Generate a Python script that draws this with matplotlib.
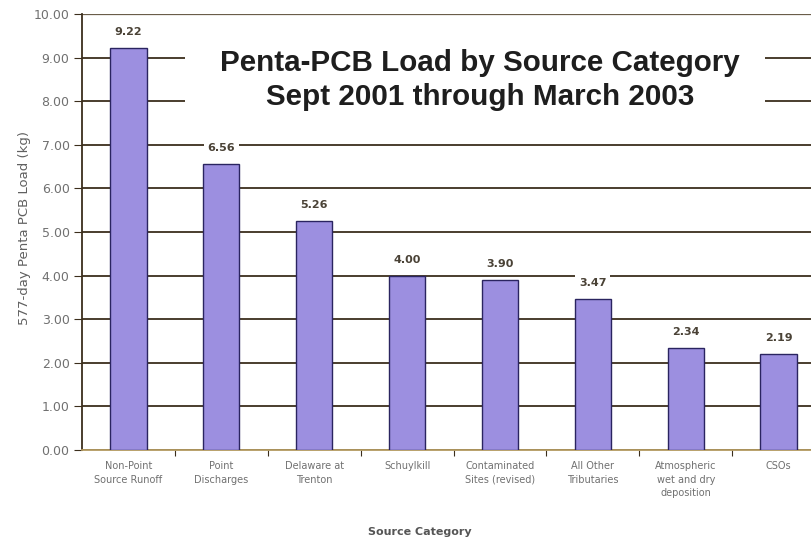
import matplotlib.pyplot as plt
import numpy as np

plt.rcParams['font.family'] = ['DejaVu Sans']

categories = ['Non-Point\nSource Runoff', 'Point\nDischarges', 'Delaware at\nTrenton',
              'Schuylkill', 'Contaminated\nSites (revised)', 'All Other\nTributaries',
              'Atmospheric\nwet and dry\ndeposition', 'CSOs']
loads = [9.22, 6.56, 5.26, 4.00, 3.90, 3.47, 2.34, 2.19]
yticks = [0, 1, 2, 3, 4, 5, 6, 7, 8, 9, 10]

grid_col = '#3b2e1c'

fig = plt.figure(figsize=(8.12, 5.42), dpi=100)
ax = fig.add_axes([0.101, 0.170, 0.899, 0.804])

x = np.arange(len(categories))
ax.set_axisbelow(True)
ax.yaxis.grid(True, color=grid_col, linewidth=1.3)
ax.bar(x, loads, width=0.39, color='#9c8fe0', edgecolor='#2a2460', linewidth=1.0, zorder=3)

# value labels sit in small white boxes that break the gridlines
for xi, v in zip(x, loads):
    ax.annotate(f'{v:.2f}', (xi, v), xytext=(0, 11.5), textcoords='offset points',
                ha='center', va='center', fontsize=8, fontweight='bold', color='#4a4236',
                bbox=dict(boxstyle='square,pad=0.35', facecolor='white', edgecolor='none'),
                zorder=4)

ax.set_xlim(-0.5, 7.36)
ax.set_ylim(0, 10)
ax.set_yticks(yticks)
ax.set_yticklabels([f'{t:.2f}' for t in yticks], fontsize=9, color='#707070')
ax.set_xticks(x[:-1] + 0.5, minor=False)
ax.set_xticklabels([])
ax.set_xticks(x, minor=True)
ax.set_xticklabels(categories, minor=True, fontsize=7, color='#707070', linespacing=1.45)
ax.tick_params(axis='x', which='minor', length=0, pad=8)
ax.tick_params(axis='x', which='major', length=4, color=grid_col)
ax.tick_params(axis='y', length=6, color=grid_col, pad=3)

for side in ['top', 'right']:
    ax.spines[side].set_visible(False)
ax.spines['left'].set_color(grid_col)
ax.spines['left'].set_linewidth(1.3)
ax.spines['bottom'].set_color('#b39a60')
ax.spines['bottom'].set_linewidth(1.3)
ax.axhline(10, color='#6a5d4a', linewidth=0.9, zorder=1)

fig.text(25 / 812, 1 - 228 / 542, '577-day Penta PCB Load (kg)', rotation=90,
         ha='center', va='center', fontsize=9.5, color='#606060')
fig.text(420 / 812, 1 - 532 / 542, 'Source Category', ha='center', va='center',
         fontsize=8, fontweight='bold', color='#555555')

# white box behind the title hides the gridlines
fig.patches.append(plt.Rectangle((185 / 812, 1 - 126 / 542), 580 / 812, 96 / 542,
                                 transform=fig.transFigure, facecolor='white',
                                 edgecolor='none', zorder=5))
fig.text(480 / 812, 1 - 63 / 542, 'Penta-PCB Load by Source Category',
         ha='center', va='center', fontsize=21.3, fontweight='bold', color='#1e1e1e',
         family='Liberation Sans', zorder=6)
fig.text(480 / 812, 1 - 97 / 542, 'Sept 2001 through March 2003',
         ha='center', va='center', fontsize=21.3, fontweight='bold', color='#1e1e1e',
         family='Liberation Sans', zorder=6)

fig.savefig('out.png', dpi=100)
